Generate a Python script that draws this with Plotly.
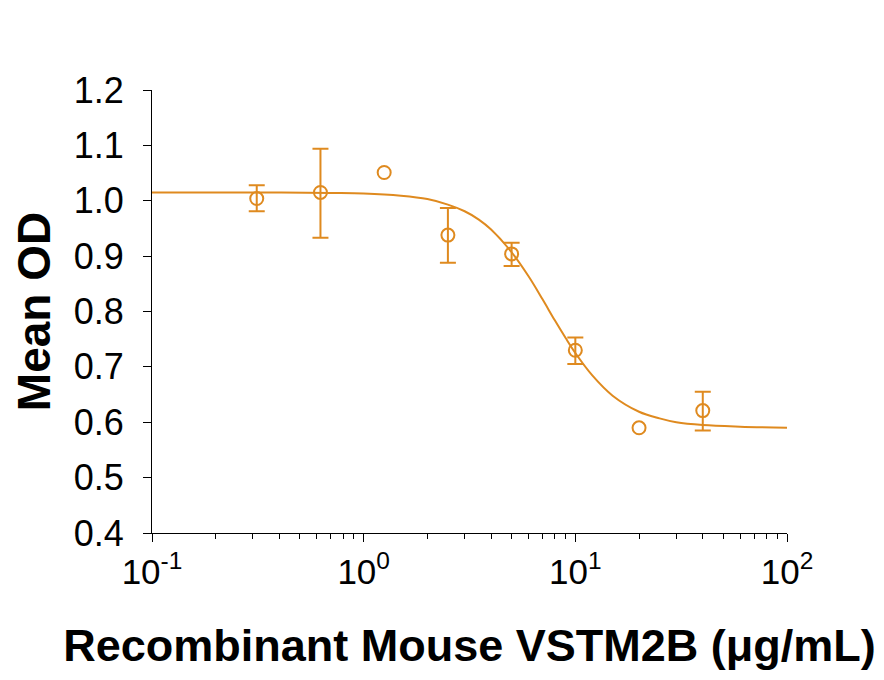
import plotly.graph_objects as go

# measured points (conc in ug/mL, mean OD, error bar up / down; None = no bar)
conc = [0.3125, 0.625, 1.25, 2.5, 5, 10, 20, 40]
mean_od = [1.004, 1.015, 1.051, 0.938, 0.904, 0.730, 0.590, 0.621]
err_plus = [0.024, 0.079, None, 0.049, 0.020, 0.023, None, 0.034]
err_minus = [0.023, 0.082, None, 0.050, 0.022, 0.025, None, 0.036]

# fitted curve
fit_x = [0.1, 0.2, 0.4, 0.7, 1, 1.5, 2, 2.5, 3, 3.5, 4, 5, 6, 7, 8, 9, 10,
         12, 15, 20, 25, 30, 40, 60, 100]
fit_y = [1.015, 1.015, 1.015, 1.014, 1.013, 1.009, 1.003, 0.993, 0.981, 0.966,
         0.948, 0.907, 0.864, 0.822, 0.784, 0.752, 0.725, 0.685, 0.648, 0.619,
         0.607, 0.600, 0.595, 0.592, 0.590]

x_ticks = [0.1, 1, 10, 100]
x_labels = ["10<sup>-1</sup>", "10<sup>0</sup>", "10<sup>1</sup>", "10<sup>2</sup>"]
y_ticks = [0.4, 0.5, 0.6, 0.7, 0.8, 0.9, 1.0, 1.1, 1.2]

orange = "#DF8A1F"

has_err = [i for i, e in enumerate(err_plus) if e is not None]

fig = go.Figure()
fig.add_trace(go.Scatter(
    x=fit_x, y=fit_y, mode="lines",
    line=dict(color=orange, width=2, shape="spline"),
    hoverinfo="skip",
))
# error bars only where the reference draws them
fig.add_trace(go.Scatter(
    x=[conc[i] for i in has_err], y=[mean_od[i] for i in has_err],
    mode="markers", marker=dict(opacity=0),
    error_y=dict(type="data", symmetric=False,
                 array=[err_plus[i] for i in has_err],
                 arrayminus=[err_minus[i] for i in has_err],
                 color=orange, thickness=2, width=8),
    hoverinfo="skip",
))
fig.add_trace(go.Scatter(
    x=conc, y=mean_od, mode="markers",
    marker=dict(symbol="circle-open", size=13, color=orange, line=dict(width=2)),
))

# page body has an 8px margin in the browser, so margins are shifted by that
fig.update_layout(
    width=884, height=680,
    showlegend=False,
    plot_bgcolor="white", paper_bgcolor="white",
    margin=dict(l=144, r=105, t=82, b=155),
    font=dict(family="Liberation Sans, Arial, sans-serif", color="black"),
    xaxis=dict(
        type="log", range=[-1, 2],
        tickvals=x_ticks, ticktext=x_labels,
        ticks="outside", ticklen=8, tickwidth=1, tickcolor="black",
        minor=dict(ticks="outside", ticklen=5, tickcolor="black", dtick="D1"),
        showline=True, linecolor="black", linewidth=1,
        showgrid=False, zeroline=False,
        tickfont=dict(size=35),
        title=dict(text="<b>Recombinant Mouse VSTM2B (μg/mL)</b>",
                   font=dict(size=45), standoff=39),
    ),
    yaxis=dict(
        range=[0.4, 1.2],
        tickvals=y_ticks, tickformat=".1f",
        ticks="outside", ticklen=8, tickwidth=1, tickcolor="black",
        showline=True, linecolor="black", linewidth=1,
        showgrid=False, zeroline=False,
        tickfont=dict(size=36),
        ticklabelstandoff=12,
        title=dict(text="<b>Mean OD</b>", font=dict(size=46), standoff=20),
    ),
)

fig.write_html("out.html")
